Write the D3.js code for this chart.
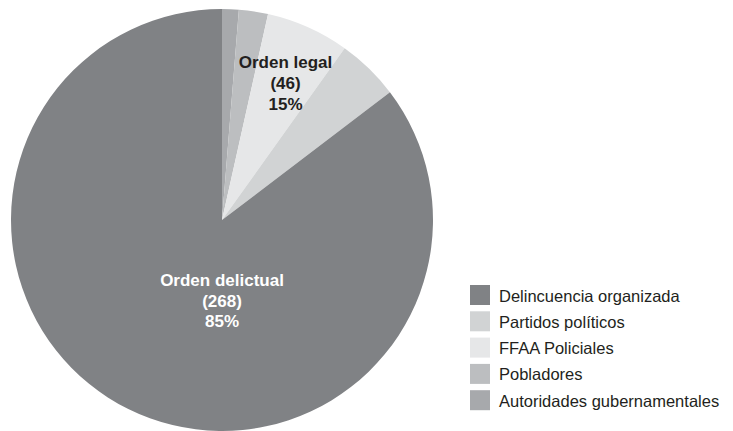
<!DOCTYPE html>
<html><head><meta charset="utf-8">
<script src="https://cdn.jsdelivr.net/npm/d3@7"></script>
<style>body{margin:0;background:#fff}svg{display:block}</style>
</head><body><svg width="733" height="431"></svg>
<script>
// Data (clockwise from 12 o'clock)
const pieOrder = ["Autoridades gubernamentales","Pobladores","FFAA Policiales","Partidos políticos","Delincuencia organizada"];
const pieValues = [4, 7, 20, 15, 268];
const pieColors = ["#a7a9ac","#bcbec0","#e6e7e8","#d1d3d4","#808285"];
const legendOrder = ["Delincuencia organizada","Partidos políticos","FFAA Policiales","Pobladores","Autoridades gubernamentales"];
const groupLabels = [["Orden legal","(46)","15%"],["Orden delictual","(268)","85%"]];

const svg = d3.select("svg");
const cx = 222, cy = 220, R = 211;
const colorScale = d3.scaleOrdinal().domain(pieOrder).range(pieColors);
const data = pieOrder.map((k,i)=>({key:k, value:pieValues[i]}));
const pie = d3.pie().value(d=>d.value).sort(null);
const arc = d3.arc().innerRadius(0).outerRadius(R);
const g = svg.append("g").attr("transform",`translate(${cx},${cy})`);
g.selectAll("path").data(pie(data)).enter().append("path")
  .attr("d",arc).attr("fill",d=>colorScale(d.data.key));

const font = "Arial, 'Liberation Sans', Helvetica, sans-serif";
function block(lines, x, y, color, dy){
  const t = svg.append("text").attr("text-anchor","middle").attr("font-family",font)
    .attr("font-weight","bold").attr("font-size",17).attr("fill",color);
  lines.forEach((l,i)=>t.append("tspan").attr("x",x).attr("y",y+i*dy).text(l));
}
block(groupLabels[0], 285.5, 68, "#231f20", 21);
block(groupLabels[1], 222, 286, "#ffffff", 20.5);

const lg = svg.append("g");
legendOrder.forEach((k,i)=>{
  const y = 285 + i*26.3;
  lg.append("rect").attr("x",470).attr("y",y).attr("width",20).attr("height",20).attr("fill",colorScale(k));
  lg.append("text").attr("x",499).attr("y",y+16.5).attr("font-family",font).attr("font-size",16.5)
    .attr("fill","#231f20").text(k);
});
</script></body></html>
